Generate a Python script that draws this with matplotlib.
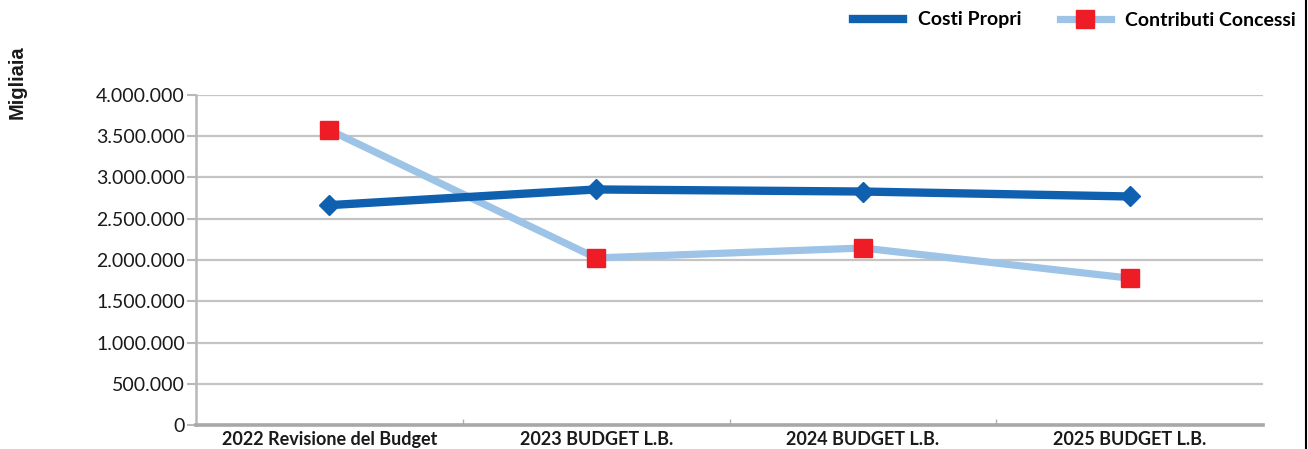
import matplotlib
matplotlib.use("Agg")
import matplotlib.pyplot as plt
from matplotlib.lines import Line2D
from matplotlib.ticker import FuncFormatter, FixedLocator

categories = ["2022 Revisione del Budget", "2023 BUDGET L.B.", "2024 BUDGET L.B.", "2025 BUDGET L.B."]
costi_propri = [2665000, 2855000, 2830000, 2770000]
contributi_concessi = [3575000, 2025000, 2145000, 1780000]
y_ticks = [0, 500000, 1000000, 1500000, 2000000, 2500000, 3000000, 3500000, 4000000]

W, H = 1308, 449
fig = plt.figure(figsize=(W / 100, H / 100), dpi=100)
ax = fig.add_axes([196 / W, 1 - 425 / H, (1263 - 196) / W, (425 - 95) / H])

x = list(range(len(categories)))
dark_blue = "#1060B0"
light_blue = "#9DC3E6"
red = "#EE1C25"

ax.plot(x, contributi_concessi, color=light_blue, lw=5.2, marker="s", ms=13,
        mfc=red, mec=red, zorder=3, solid_capstyle="butt")
ax.plot(x, costi_propri, color=dark_blue, lw=6.0, marker="D", ms=10,
        mfc=dark_blue, mec=dark_blue, zorder=4, solid_capstyle="butt")

ax.set_xlim(-0.5, len(categories) - 0.5)
ax.set_ylim(0, 4000000)
ax.set_yticks(y_ticks)
ax.yaxis.set_major_formatter(FuncFormatter(lambda v, p: f"{int(v):,}".replace(",", ".")))
ax.set_xticks(x)
ax.set_xticklabels(categories, fontfamily="Lato", fontweight="bold", fontsize=13, color="#1a1a1a")
ax.tick_params(axis="x", length=0, pad=4)
ax.xaxis.set_minor_locator(FixedLocator([0.5, 1.5, 2.5]))
ax.tick_params(axis="x", which="minor", direction="in", length=4, width=1, color="#b0b0b0")
ax.tick_params(axis="y", length=6.5, width=1.5, color="#b8b8b8", pad=1.5, labelsize=14, labelcolor="#1a1a1a")
for lab in ax.get_yticklabels():
    lab.set_fontfamily("Lato")

ax.grid(axis="y", color="#c4c4c4", lw=1.6, zorder=0)
ax.set_axisbelow(True)
for s in ["top", "right"]:
    ax.spines[s].set_visible(False)
ax.spines["left"].set_color("#b8b8b8")
ax.spines["left"].set_linewidth(1.8)
ax.spines["bottom"].set_color("#a8a8a8")
ax.spines["bottom"].set_linewidth(2.6)

fig.text(17 / W, 1 - 82 / H, "Migliaia", rotation=90, ha="center", va="center",
         fontfamily="Liberation Sans", fontweight="bold", fontsize=14.5, color="#1a1a1a")

handles = [
    Line2D([], [], color=dark_blue, lw=6.0),
    Line2D([], [], color=light_blue, lw=5.2, marker="s", ms=13, mfc=red, mec=red),
]
fig.legend(handles, ["Costi Propri", "Contributi Concessi"], loc="center right",
           bbox_to_anchor=(1296 / W, 1 - 20 / H), ncol=2, frameon=False,
           prop={"family": "Lato", "weight": "bold", "size": 14},
           handlelength=2.6, handletextpad=0.75, columnspacing=2.0, borderpad=0, borderaxespad=0)

fig.add_artist(Line2D([1305.5 / W, 1305.5 / W], [0, 1], transform=fig.transFigure, color="black", lw=1.5))

fig.savefig("out.png", dpi=100)
